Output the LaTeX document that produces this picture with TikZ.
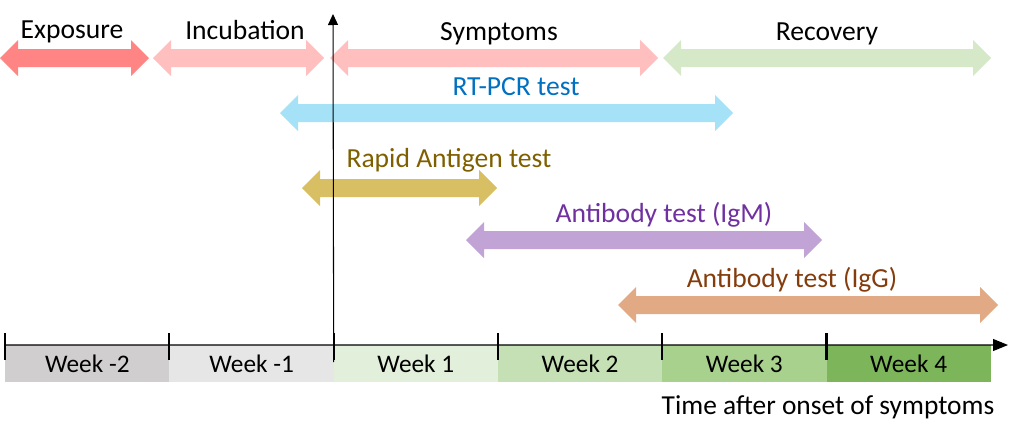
\documentclass[tikz,border=0pt]{standalone}
\usepackage{fontspec}
\setmainfont{Carlito}
\usetikzlibrary{positioning}
\usetikzlibrary{arrows.meta}

\definecolor{expo}{HTML}{FF8585}
\definecolor{incu}{HTML}{FFBFBF}
\definecolor{reco}{HTML}{D5E8C8}
\definecolor{pcr}{HTML}{A6E2F7}
\definecolor{pcrtxt}{HTML}{0070C0}
\definecolor{rapid}{HTML}{D9BF63}
\definecolor{rapidtxt}{HTML}{7F6000}
\definecolor{igm}{HTML}{C2A3D6}
\definecolor{igmtxt}{HTML}{7030A0}
\definecolor{igg}{HTML}{E2A985}
\definecolor{iggtxt}{HTML}{843C0C}
\definecolor{wk_m2}{HTML}{D0CECE}
\definecolor{wk_m1}{HTML}{E7E6E6}
\definecolor{wk_1}{HTML}{E2EFDA}
\definecolor{wk_2}{HTML}{C5E0B4}
\definecolor{wk_3}{HTML}{A9D18E}
\definecolor{wk_4}{HTML}{7DB65A}

% block arrow: x1, x2, y, colour
\newcommand{\bandarrow}[4]{%
  \fill[#4] (#1,#3) -- ({#1+18},{#3-18}) -- ({#1+18},{#3-9}) -- ({#2-18},{#3-9})
    -- ({#2-18},{#3-18}) -- (#2,#3) -- ({#2-18},{#3+18}) -- ({#2-18},{#3+9})
    -- ({#1+18},{#3+9}) -- ({#1+18},{#3+18}) -- cycle;}

\tikzset{
  phase/.style={font=\fontsize{15.7}{19}\selectfont, anchor=base, inner sep=0pt},
  weekbox/.style={font=\fontsize{14.4}{17}\selectfont, minimum width=3.286cm,
                  minimum height=0.74cm, inner sep=0pt, outer sep=0pt},
  tick/.style={line width=1.2pt},
  axis/.style={line width=0.6pt}
}

\begin{document}
\begin{tikzpicture}[x=0.02cm, y=-0.02cm]
    \useasboundingbox (0,0) rectangle (1024,440);
    % \draw[help lines, step=50] (0,0) grid (1024,440);

    \bandarrow{0}{149}{58}{expo}
    \bandarrow{153}{324}{58}{incu}
    \bandarrow{330}{658}{58}{incu}
    \bandarrow{663}{991}{58}{reco}
    \bandarrow{280}{733}{113}{pcr}
    \bandarrow{302}{497}{188}{rapid}
    \bandarrow{466}{822}{240}{igm}
    \bandarrow{618}{998}{305}{igg}

    \node[phase]                    (exposure)   at (72,38)   {Exposure};
    \node[phase]                    (incubation) at (245,39)  {Incubation};
    \node[phase]                    (symptoms)   at (499,40)  {Symptoms};
    \node[phase]                    (recovery)   at (827,40)  {Recovery};
    \node[phase, text=pcrtxt]       (rt_pcr)     at (516,95)  {RT-PCR test};
    \node[phase, text=rapidtxt]     (antigen)    at (449,167) {Rapid Antigen test};
    \node[phase, text=igmtxt]       (igm_test)   at (664,222) {Antibody test (IgM)};
    \node[phase, text=iggtxt]       (igg_test)   at (792,287) {Antibody test (IgG)};

    \node[weekbox, fill=wk_m2]                  (w_m2) at (87.3,363.5) {Week -2};
    \node[weekbox, fill=wk_m1, right=0pt of w_m2] (w_m1) {Week -1};
    \node[weekbox, fill=wk_1,  right=0pt of w_m1] (w_1)  {Week 1};
    \node[weekbox, fill=wk_2,  right=0pt of w_1]  (w_2)  {Week 2};
    \node[weekbox, fill=wk_3,  right=0pt of w_2]  (w_3)  {Week 3};
    \node[weekbox, fill=wk_4,  right=0pt of w_3]  (w_4)  {Week 4};

    \coordinate (t_start) at (w_m2.north west);
    \coordinate (t_end)   at (1008,345);
    \coordinate (onset)   at (w_1.north west);
    \coordinate (v_top)   at (333,14);

    \draw[axis, -{Triangle[length=0.3cm, width=0.24cm]}] (t_start) -- (t_end);
    \draw[axis, -{Triangle[length=0.22cm, width=0.2cm]}] ([yshift=-0.34cm]onset) -- (v_top);

    \foreach \w in {w_m2, w_m1, w_1, w_2, w_3, w_4}
        \draw[tick] ([yshift=0.24cm]\w.north west) -- ([yshift=-0.3cm]\w.north west);

    \node[font=\fontsize{15.6}{18}\selectfont, anchor=base] (time) at (828,414) {Time after onset of symptoms};
\end{tikzpicture}
\end{document}
